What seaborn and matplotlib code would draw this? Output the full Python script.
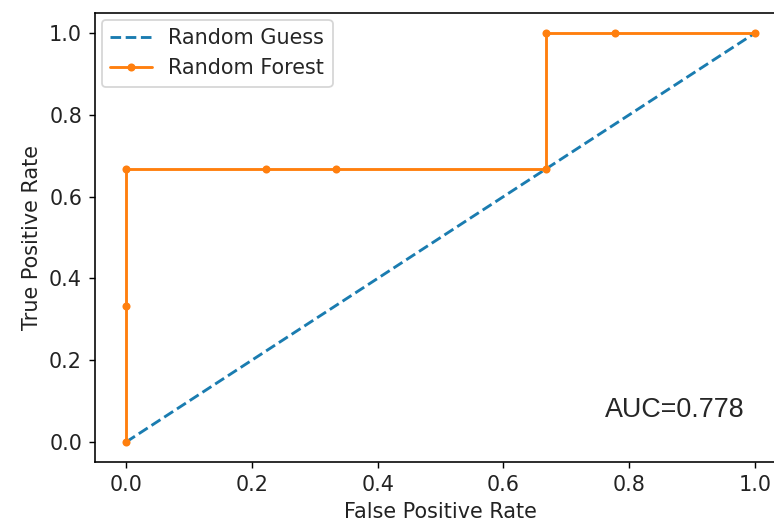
import pandas as pd
import seaborn as sns
import matplotlib.pyplot as plt

# ROC points
guess_fpr = [0.0, 1.0]
guess_tpr = [0.0, 1.0]
rf_fpr = [0.0, 0.0, 0.0, 0.222, 0.333, 0.667, 0.667, 0.778, 1.0]
rf_tpr = [0.0, 0.333, 0.667, 0.667, 0.667, 0.667, 1.0, 1.0, 1.0]
auc_label = "AUC=0.778"

df_guess = pd.DataFrame({"fpr": guess_fpr, "tpr": guess_tpr})
df_rf = pd.DataFrame({"fpr": rf_fpr, "tpr": rf_tpr})

sns.set_style("ticks")
plt.rcParams["font.family"] = ["DejaVu Sans"]

dpi = 129
fs = 11.6
fig = plt.figure(figsize=(774 / dpi, 530 / dpi), dpi=dpi)
ax = fig.add_axes([0.1222, 0.1274, 0.894, 0.849])

sns.lineplot(data=df_guess, x="fpr", y="tpr", sort=False, estimator=None,
             color="#1a7cb0", linestyle="--", linewidth=1.6, label="Random Guess", ax=ax)
sns.lineplot(data=df_rf, x="fpr", y="tpr", sort=False, estimator=None,
             color="#ff7f0e", marker=".", markersize=9, markeredgewidth=0, linewidth=1.6,
             label="Random Forest", ax=ax)

ax.set_xlim(-0.05, 1.05)
ax.set_ylim(-0.05, 1.05)
ax.set_xticks([0.0, 0.2, 0.4, 0.6, 0.8, 1.0])
ax.set_yticks([0.0, 0.2, 0.4, 0.6, 0.8, 1.0])
ax.set_xlabel("False Positive Rate", fontsize=fs, color="#222222")
ax.set_ylabel("True Positive Rate", fontsize=fs, color="#222222")
ax.tick_params(labelsize=fs, color="black", labelcolor="#222222")
for s in ax.spines.values():
    s.set_color("black")
    s.set_linewidth(0.9)
ax.spines["right"].set_visible(False)

ax.text(0.761, 0.06, auc_label, fontsize=15, family="Liberation Sans",
        ha="left", va="baseline")

ax.legend(loc="upper left", fontsize=fs, frameon=True, borderaxespad=0.35)

fig.savefig("out.png", dpi=dpi)
